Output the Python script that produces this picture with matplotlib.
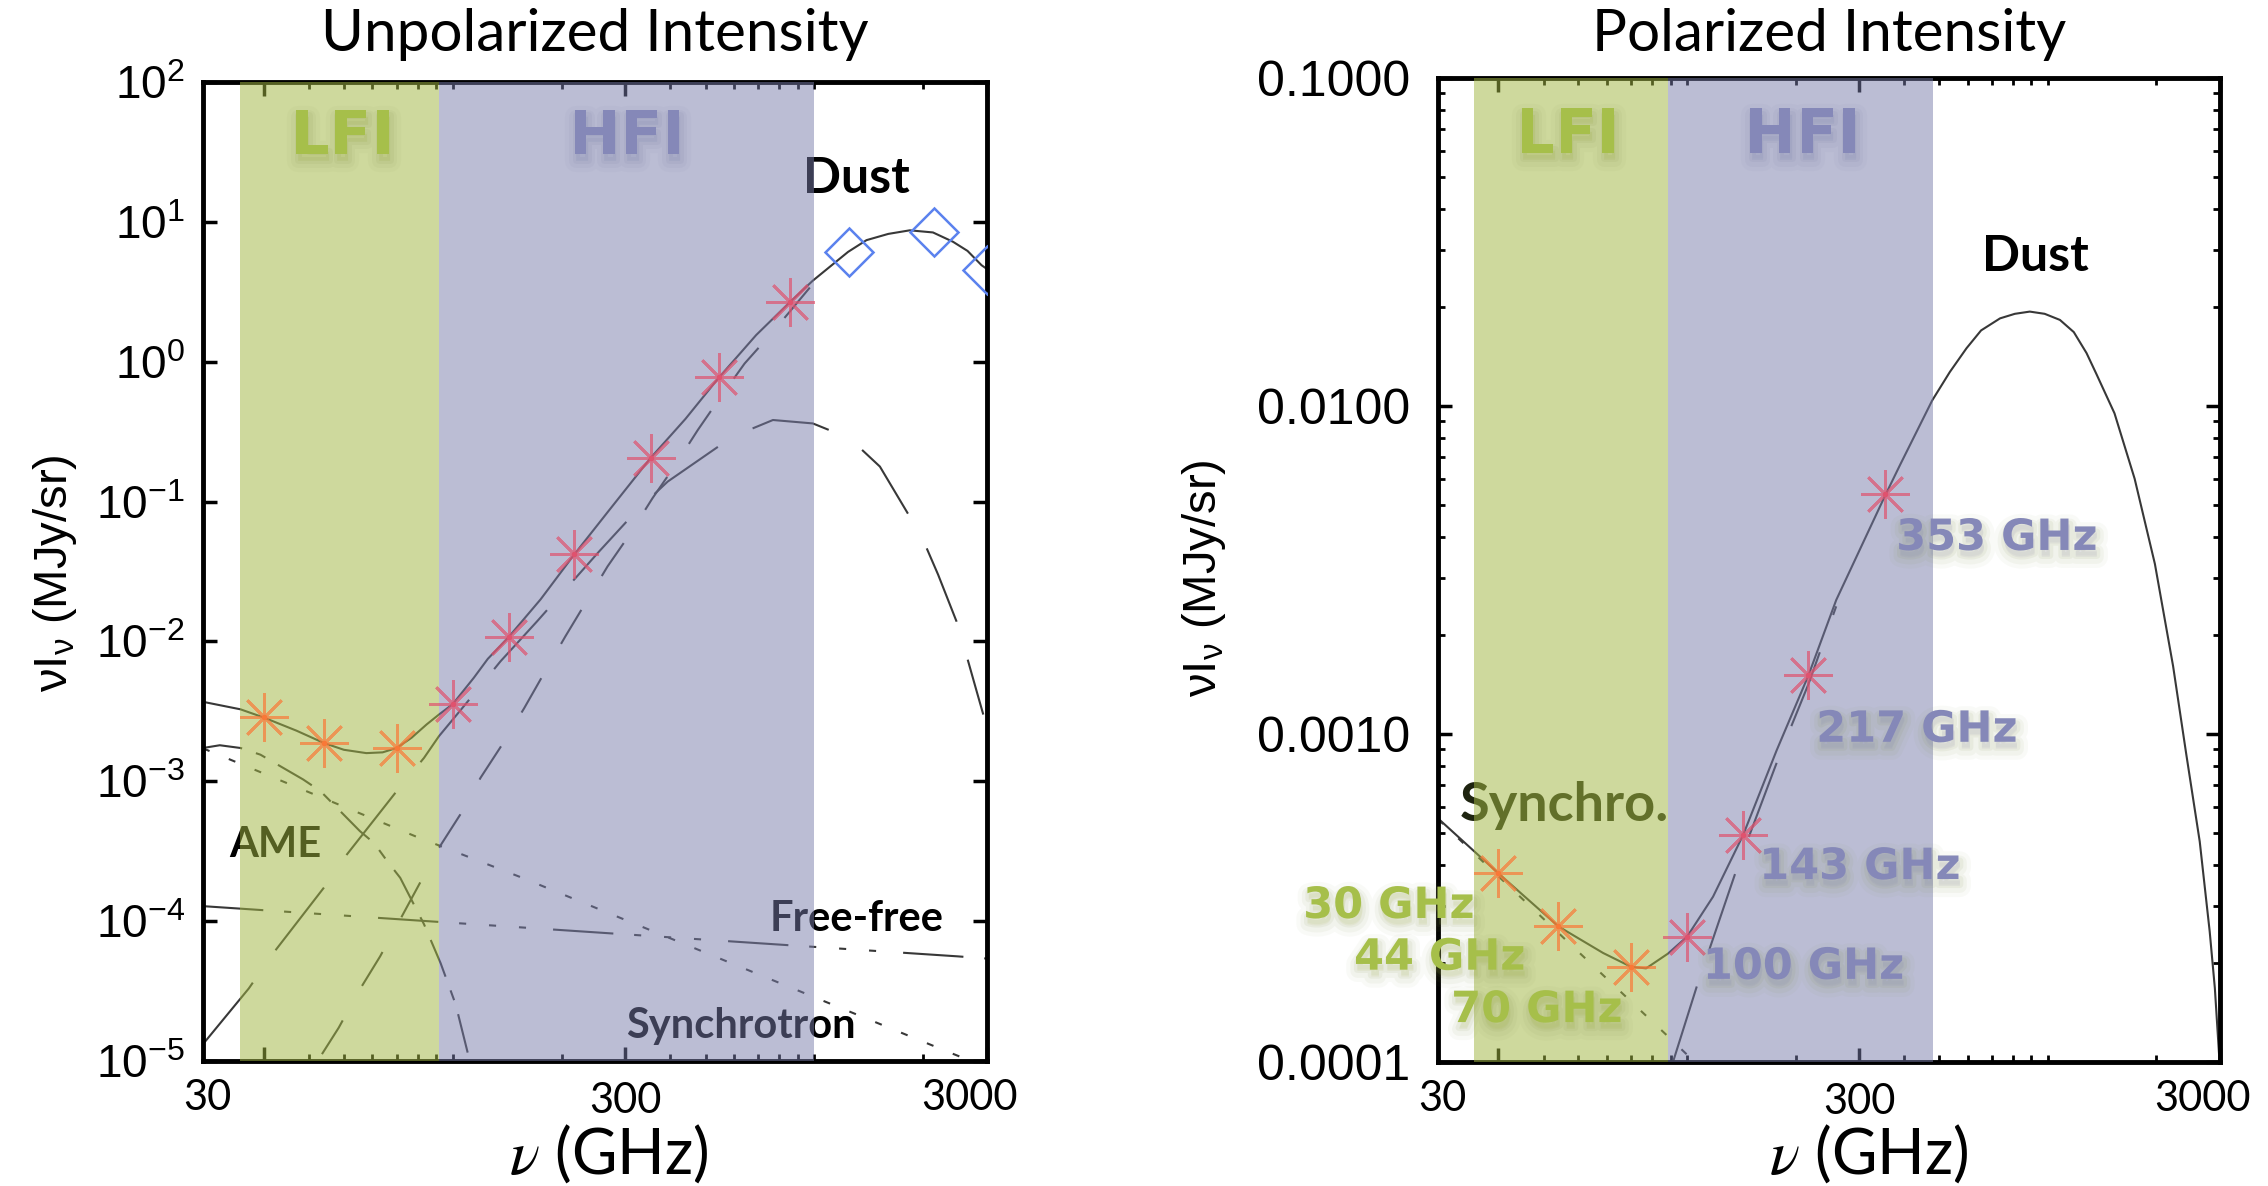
import matplotlib
matplotlib.use("Agg")
import matplotlib.pyplot as plt
import matplotlib.patheffects as pe
from matplotlib.ticker import FixedLocator, NullFormatter, NullLocator, FuncFormatter
import math

# ---------------- data ----------------
XLIM = (20.4, 3000)

planck_freq = [30, 44, 70, 100, 143, 217, 353, 545, 857]
n_lfi = 3

# Unpolarized panel
unpol_star = [2.86e-3, 1.88e-3, 1.73e-3, 3.56e-3, 1.08e-2, 4.2e-2, 0.206, 0.773, 2.68]
iras_freq = [1249, 2141, 3000]
iras_val = [6.1, 8.5, 4.5]

unpol_total_f = [20.4, 25.9, 30, 37, 44, 50, 57.7, 64, 70, 77, 84.7, 91.6, 100, 114.4, 125,
                 143, 175, 217, 270, 353, 440, 545, 690, 857, 990, 1239, 1393, 1600, 1835,
                 2127, 2417, 2650, 2897, 3000]
unpol_total = [3.7e-3, 3.27e-3, 2.86e-3, 2.3e-3, 1.88e-3, 1.68e-3, 1.59e-3, 1.61e-3, 1.73e-3,
               2.05e-3, 2.55e-3, 3.0e-3, 3.56e-3, 5.5e-3, 7.5e-3, 1.08e-2, 2.0e-2, 4.2e-2,
               8.6e-2, 0.206, 0.39, 0.773, 1.55, 2.68, 3.8, 6.1, 7.4, 8.2, 8.7, 8.4, 7.2,
               6.2, 4.9, 4.6]

unpol_sync_f = [20.4, 78.7, 155.8, 512, 2365, 3000]
unpol_sync = [1.72e-3, 4.05e-4, 2.04e-4, 5.8e-5, 1.15e-5, 9.0e-6]

unpol_ff_f = [20.4, 85, 674, 2490, 3000]
unpol_ff = [1.28e-4, 1.0e-4, 7.0e-5, 5.6e-5, 5.4e-5]

unpol_ame_f = [20.4, 22.7, 25.9, 29.4, 38.6, 43.1, 55.4, 60.6, 65.8, 71.6, 83.3, 92.6,
               101.9, 109.7, 115]
unpol_ame = [1.73e-3, 1.81e-3, 1.73e-3, 1.55e-3, 1.03e-3, 8.5e-4, 4.4e-4, 3.62e-4, 2.7e-4,
             2.04e-4, 9.5e-5, 5.0e-5, 2.54e-5, 1.18e-5, 7e-6]

unpol_cold_f = [20.4, 27.3, 31.9, 44, 51, 70, 83.3, 91.6, 114.4, 135.5, 171, 254, 321, 393,
                594, 768, 990, 1252, 1517, 1980, 2198, 2471, 2607, 2809, 2930]
unpol_cold = [1.32e-5, 3.3e-5, 5.9e-5, 1.73e-4, 3.0e-4, 8.5e-4, 1.47e-3, 2.1e-3, 4.2e-3,
              7.2e-3, 1.39e-2, 4.4e-2, 8.5e-2, 0.139, 0.291, 0.383, 0.362, 0.283, 0.178,
              0.056, 0.030, 0.0139, 8.7e-3, 4.4e-3, 3.0e-3]

unpol_dust_f = [43.5, 48.4, 55.0, 63.0, 71.6, 91.6, 105, 119.4, 137, 157.7, 179, 205, 268,
                308, 357, 410, 476, 547, 641, 760, 857, 990]
unpol_dust = [1.12e-5, 1.73e-5, 3.16e-5, 5.6e-5, 1.03e-4, 3.34e-4, 5.8e-4, 1.06e-3, 1.83e-3,
              3.34e-3, 5.94e-3, 1.09e-2, 3.44e-2, 5.78e-2, 0.106, 0.178, 0.325, 0.547, 0.97,
              1.59, 2.3, 3.6]

# Polarized panel
pol_star = [3.76e-4, 2.59e-4, 1.95e-4, 2.41e-4, 4.92e-4, 1.51e-3, 5.4e-3]
pol_star_labels = ["30 GHz", "44 GHz", "70 GHz", "100 GHz", "143 GHz", "217 GHz", "353 GHz"]

pol_total_f = [20.4, 30, 44, 58.5, 70, 77, 88.5, 100, 118, 143, 177, 217, 259, 353, 389,
               478, 535, 595, 653, 737, 810, 891, 980, 1080, 1180, 1280, 1364, 1530, 1740,
               1980, 2224, 2418, 2636, 2809, 2903, 2960, 3000]
pol_total = [5.53e-4, 3.76e-4, 2.59e-4, 2.15e-4, 1.95e-4, 1.93e-4, 2.14e-4, 2.41e-4, 3.19e-4,
             4.92e-4, 8.9e-4, 1.51e-3, 2.56e-3, 5.3e-3, 6.6e-3, 1.04e-2, 1.27e-2, 1.5e-2,
             1.7e-2, 1.85e-2, 1.91e-2, 1.94e-2, 1.91e-2, 1.83e-2, 1.68e-2, 1.45e-2, 1.25e-2,
             9.5e-3, 6.0e-3, 3.3e-3, 1.61e-3, 8.7e-4, 4.7e-4, 2.5e-4, 1.68e-4, 1.2e-4, 9.5e-5]

pol_sync_f = [20.4, 58.5, 87.6, 105]
pol_sync = [5.5e-4, 1.84e-4, 1.21e-4, 1.0e-4]

pol_dust_f = [91.4, 106.4, 137, 181, 217, 259]
pol_dust = [1.0e-4, 1.7e-4, 3.85e-4, 8.7e-4, 1.42e-3, 2.45e-3]

# instrument bands (GHz) as drawn in each panel
unpol_lfi = (25.9, 91.6)
unpol_hfi = (91.6, 996)
pol_lfi = (25.6, 88.5)
pol_hfi = (88.5, 479)

# ---------------- style ----------------
plt.rcParams['mathtext.fontset'] = 'stix'
plt.rcParams['axes.unicode_minus'] = False

LINE = '#383838'
LFI_BAND = '#a2b743'
HFI_BAND = '#787caa'
LFI_TXT = '#a6bf4a'
HFI_TXT = '#8588b8'
ORANGE = '#f97837'
RED = '#e0526e'
GILL = 'Lato'
HELV = 'Liberation Sans'
WIDE = 'DejaVu Sans'

W, H = 2268, 1186
fig = plt.figure(figsize=(W / 100, H / 100), dpi=100)
ax1 = fig.add_axes([203 / W, 1 - 1061 / H, 784 / W, 979 / H])
ax2 = fig.add_axes([1438 / W, 1 - 1062 / H, 782 / W, 984 / H])


def glow(color='#7d8a45'):
    return [pe.Stroke(linewidth=16, foreground=color, alpha=0.04, offset=(1, -5)),
            pe.Stroke(linewidth=10, foreground=color, alpha=0.06, offset=(1, -5)),
            pe.Stroke(linewidth=5, foreground=color, alpha=0.08, offset=(1, -4)),
            pe.Normal()]


def setup(ax, ylim):
    ax.set_xscale('log')
    ax.set_yscale('log')
    ax.set_xlim(*XLIM)
    ax.set_ylim(*ylim)
    for s in ax.spines.values():
        s.set_linewidth(3.5)
    ax.xaxis.set_major_locator(FixedLocator([30, 300, 3000]))
    ax.xaxis.set_minor_locator(FixedLocator([40, 50, 60, 70, 80, 90, 100, 200, 400, 500,
                                             600, 700, 800, 900, 1000, 2000]))
    ax.xaxis.set_minor_formatter(NullFormatter())
    ax.set_xticklabels(['', '300', ''])
    ax.tick_params(which='major', direction='in', top=True, right=True, length=10, width=2.5)
    ax.tick_params(which='minor', direction='in', top=True, right=True, length=5, width=2)
    ax.tick_params(axis='x', labelsize=30, labelfontfamily=GILL, pad=15)
    # corner labels sit at the frame corners in the reference
    ax.text(0.006, -0.038, '30', transform=ax.transAxes, ha='center', va='center',
            fontsize=30, family=GILL)
    ax.text(0.978, -0.038, '3000', transform=ax.transAxes, ha='center', va='center',
            fontsize=30, family=GILL)


def stars(ax, freqs, vals):
    for i, (f, v) in enumerate(zip(freqs, vals)):
        c = ORANGE if i < n_lfi else RED
        ax.plot(f, v, marker=(8, 2, 0), ms=35, mew=2, color=c, alpha=0.7, zorder=6)
        ax.plot(f, v, marker='o', ms=4, color=c, mew=0, zorder=6)


# ---------------- left: unpolarized ----------------
setup(ax1, (1e-5, 1e2))
ax1.yaxis.set_major_locator(FixedLocator([10.0 ** k for k in range(-5, 3)]))
ax1.yaxis.set_minor_locator(NullLocator())
ax1.yaxis.set_major_formatter(FuncFormatter(
    lambda v, p: r'$\mathregular{10^{%d}}$' % round(math.log10(v))))
ax1.tick_params(axis='y', labelsize=33, labelfontfamily=HELV, pad=13)

ax1.plot(unpol_total_f, unpol_total, color=LINE, lw=1.5, zorder=2)
ax1.plot(unpol_sync_f, unpol_sync, color=LINE, lw=1.5, dashes=(3.4, 10), zorder=2)
ax1.plot(unpol_ff_f, unpol_ff, color=LINE, lw=1.5,
         dashes=(29, 10, 3.4, 11, 3.4, 11, 3.4, 13), zorder=2)
ax1.plot(unpol_ame_f, unpol_ame, color=LINE, lw=1.5, dashes=(19, 7, 5, 7), zorder=2)
ax1.plot(unpol_cold_f, unpol_cold, color=LINE, lw=1.5, dashes=(38, 19), zorder=2)
ax1.plot(unpol_dust_f, unpol_dust, color=LINE, lw=1.5, dashes=(19, 19), zorder=2)

ax1.text(1310, 20.3, 'Dust', fontsize=36, weight='bold', family=GILL,
         ha='center', va='center', zorder=3)
ax1.text(32.3, 3.49e-4, 'AME', fontsize=30, weight='bold', family=GILL,
         ha='center', va='center', zorder=3)
ax1.text(1306, 1.04e-4, 'Free-free', fontsize=30, weight='bold', family=GILL,
         ha='center', va='center', zorder=3)
ax1.text(625, 1.78e-5, 'Synchrotron', fontsize=30, weight='bold', family=GILL,
         ha='center', va='center', zorder=3)

ax1.axvspan(*unpol_lfi, color=LFI_BAND, alpha=0.52, lw=0, zorder=5)
ax1.axvspan(*unpol_hfi, color=HFI_BAND, alpha=0.5, lw=0, zorder=5)

stars(ax1, planck_freq, unpol_star)
ax1.plot(iras_freq, iras_val, ls='none', marker='D', ms=24, mfc='none', mec='#5b82ee',
         mew=1.8, zorder=6)

ax1.text(49.6, 40, 'LFI', fontsize=44, weight='bold', family=WIDE, color=LFI_TXT,
         ha='center', va='center', zorder=7, path_effects=glow())
ax1.text(303, 40, 'HFI', fontsize=44, weight='bold', family=WIDE, color=HFI_TXT,
         ha='center', va='center', zorder=7, path_effects=glow('#6a6e98'))

# ---------------- right: polarized ----------------
setup(ax2, (1e-4, 0.1))
ax2.yaxis.set_major_locator(FixedLocator([1e-4, 1e-3, 1e-2, 1e-1]))
ax2.yaxis.set_major_formatter(FuncFormatter(lambda v, p: '%.4f' % v))
ax2.yaxis.set_minor_formatter(NullFormatter())
ax2.tick_params(axis='y', labelsize=36, labelfontfamily=HELV, pad=20)

ax2.plot(pol_total_f, pol_total, color=LINE, lw=1.5, zorder=2)
ax2.plot(pol_sync_f, pol_sync, color=LINE, lw=1.5, dashes=(3.4, 10), zorder=2)
ax2.plot(pol_dust_f, pol_dust, color=LINE, lw=1.5, dashes=(38, 19), zorder=2)

ax2.text(926, 0.0286, 'Dust', fontsize=36, weight='bold', family=GILL,
         ha='center', va='center', zorder=3)
ax2.text(45.8, 6.07e-4, 'Synchro.', fontsize=39, weight='bold', family=GILL,
         color='#1e2410', ha='center', va='center', zorder=3)

ax2.axvspan(*pol_lfi, color=LFI_BAND, alpha=0.52, lw=0, zorder=5)
ax2.axvspan(*pol_hfi, color=HFI_BAND, alpha=0.5, lw=0, zorder=5)

stars(ax2, planck_freq[:len(pol_star)], pol_star)

ax2.text(46.7, 0.0665, 'LFI', fontsize=44, weight='bold', family=WIDE, color=LFI_TXT,
         ha='center', va='center', zorder=7, path_effects=glow())
ax2.text(209, 0.0665, 'HFI', fontsize=44, weight='bold', family=WIDE, color=HFI_TXT,
         ha='center', va='center', zorder=7, path_effects=glow('#6a6e98'))

label_f = [14.9, 20.6, 38.3, 210, 301, 433, 722]
label_v = [2.99e-4, 2.08e-4, 1.44e-4, 1.95e-4, 3.93e-4, 1.03e-3, 3.96e-3]
for i, (txt, f, v) in enumerate(zip(pol_star_labels, label_f, label_v)):
    c = LFI_TXT if i < n_lfi else HFI_TXT
    ax2.text(f, v, txt, fontsize=31, weight='bold', family=WIDE, color=c,
             ha='center', va='center', zorder=7, path_effects=glow())

# ---------------- titles and axis labels ----------------
fig.text(595 / W, 1 - 51 / H, 'Unpolarized Intensity', fontsize=42, family=GILL,
         ha='center', va='baseline')
fig.text(1829 / W, 1 - 51 / H, 'Polarized Intensity', fontsize=42, family=GILL,
         ha='center', va='baseline')
for xc in (609, 1869):
    fig.text(xc / W, 1 - 1174 / H, r'$\nu$ (GHz)', fontsize=45, family=GILL,
             ha='center', va='baseline')
for xc, yc in ((55, 573), (1204, 578)):
    fig.text(xc / W, 1 - yc / H, r'$\mathregular{\nu I_{\nu}}$ (MJy/sr)', fontsize=34,
             family=HELV, rotation=90, ha='center', va='center')

fig.savefig('out.png', dpi=100)
